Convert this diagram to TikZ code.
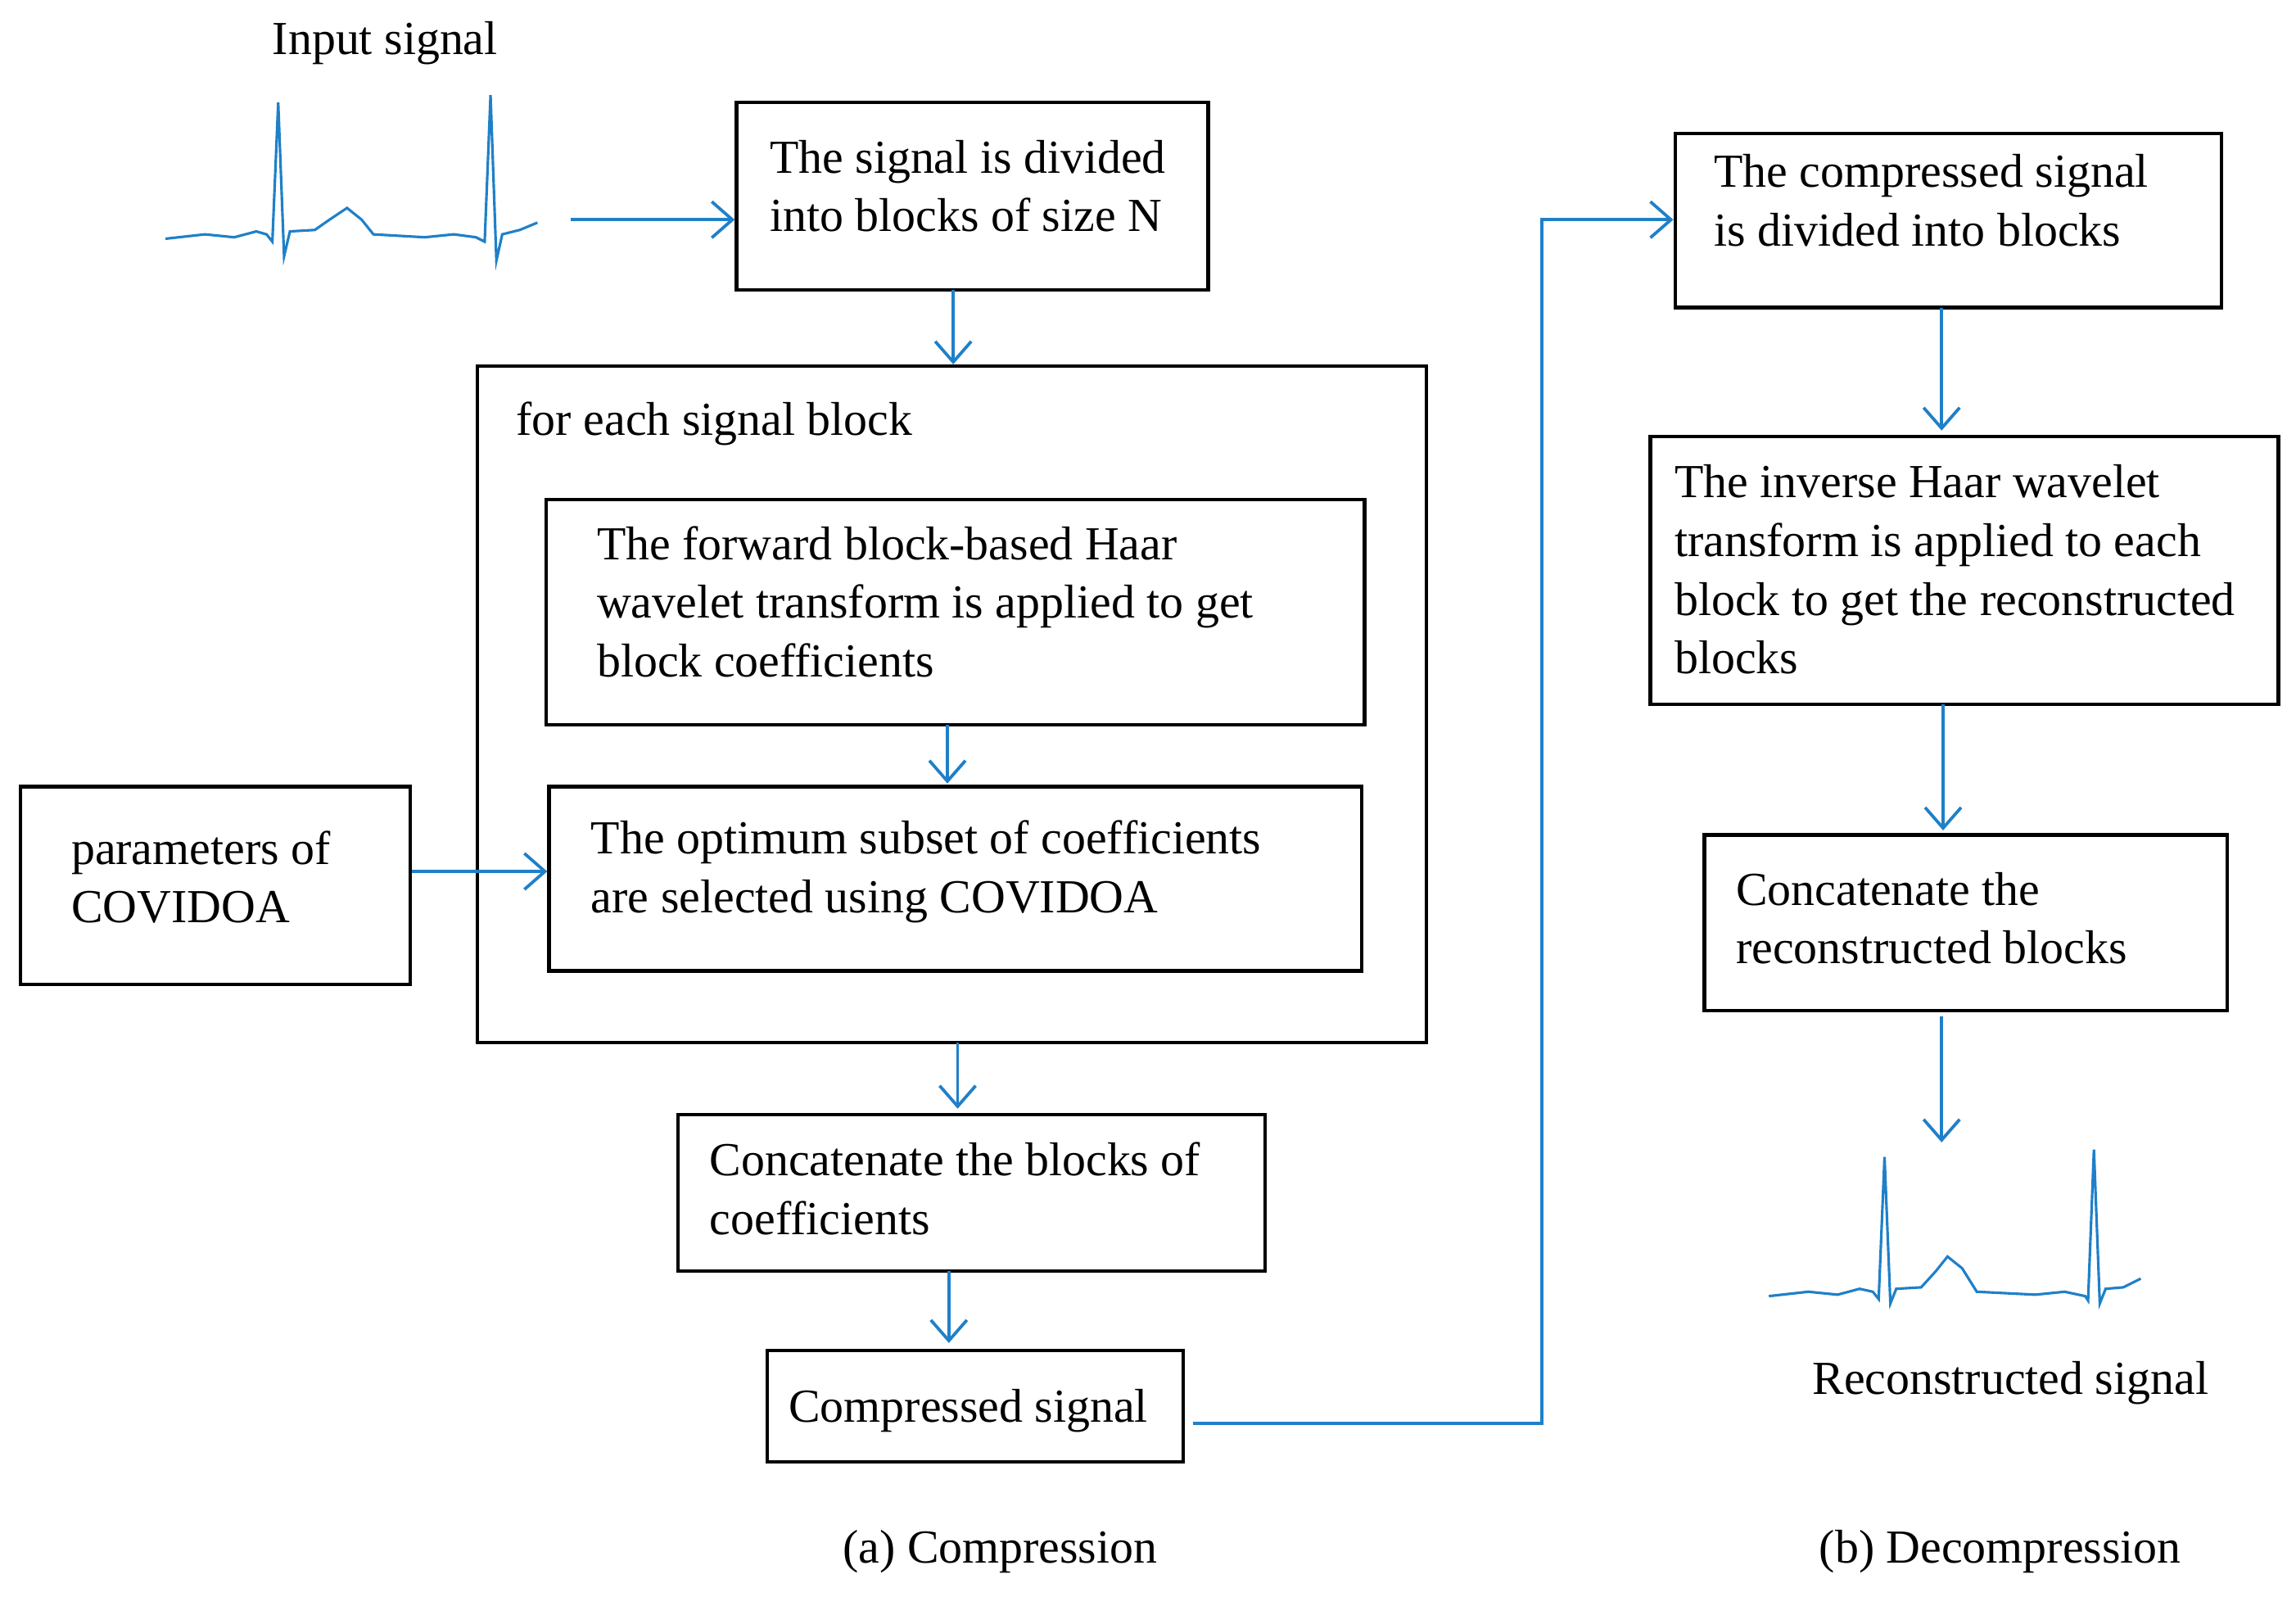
\documentclass[tikz,border=0pt]{standalone}
\usepackage{fontspec}
\setmainfont{Liberation Serif}
\usetikzlibrary{arrows.meta}
\definecolor{ab}{HTML}{1F80C8}
\begin{document}
\begin{tikzpicture}[x=0.01cm,y=-0.01cm,
  box/.style={draw,line width=0.7pt,inner sep=0pt},
  txt/.style={anchor=base west,align=left,inner sep=0pt,font=\fontsize{9.2}{11.38}\selectfont},
  arr/.style={ab,line width=0.6pt,-{Straight Barb[length=4pt,width=7pt]}},
  ecg/.style={ab,line width=0.5pt}]
\useasboundingbox (0,0) rectangle (1568,1090);
\def\bx#1#2#3#4#5{\node[box,minimum width={(#4-#2)*0.01cm},minimum height={(#5-#3)*0.01cm}] (#1) at ({(#2+#4)/2},{(#3+#5)/2}) {};}
\bx{b1}{503}{70}{825}{198}
\bx{outer}{326}{250}{974}{712}
\bx{b2}{373}{341}{932}{495}
\bx{b3}{375}{537}{930}{663}
\bx{par}{14}{537}{280}{672}
\bx{b4}{463}{761}{864}{868}
\bx{b5}{524}{922}{808}{998}
\bx{d1}{1144}{91}{1517}{210}
\bx{d2}{1127}{298}{1556}{481}
\bx{d3}{1164}{570}{1521}{690}
\node[txt] (t1) at (525,158) {The signal is divided\\into blocks of size N};
\node[txt] (t0) at (352,297) {for each signal block};
\node[txt] (t2) at (407,462) {The forward block-based Haar\\wavelet transform is applied to get\\block coefficients};
\node[txt] (t3) at (403,623) {The optimum subset of coefficients\\are selected using COVIDOA};
\node[txt] (tp) at (48,630) {parameters of\\COVIDOA};
\node[txt] (t4) at (484,843) {Concatenate the blocks of\\coefficients};
\node[txt] (t5) at (538,971) {Compressed signal};
\node[txt] (u1) at (1170,168) {The compressed signal\\is divided into blocks};
\node[txt] (u2) at (1143,460) {The inverse Haar wavelet\\transform is applied to each\\block to get the reconstructed\\blocks};
\node[txt] (u3) at (1185,658) {Concatenate the\\reconstructed blocks};
\node[txt,anchor=base] (l1) at (263,37) {Input signal};
\node[txt,anchor=base] (l2) at (1373,952) {Reconstructed signal};
\node[txt,anchor=base] (l3) at (683,1067) {(a) Compression};
\node[txt,anchor=base] (l4) at (1366,1067) {(b) Decompression};
% ECG 1
\draw[ecg] plot coordinates {(113,163) (140,160) (160,162) (175,158) (182,160) (186,165) (190,70) (194,175) (198,158) (215,157) (225,150) (237,142) (247,150) (255,160) (290,162) (310,160) (325,162) (331,165) (335,65) (339,178) (343,160) (355,157) (367,152)};
% ECG 2
\draw[ecg] plot coordinates {(1208,885) (1235,882) (1255,884) (1270,880) (1279,882) (1283,887) (1287,790) (1291,890) (1295,880) (1312,879) (1322,868) (1330,858) (1340,866) (1350,882) (1390,884) (1410,882) (1424,885) (1426,888) (1430,785) (1434,890) (1438,880) (1450,879) (1462,873)};
\coordinate (e1) at (390,150);
\draw[arr] (e1) -- (b1.west |- e1);
\draw[arr] (651,198) -- (outer.north -| 651,0);
\draw[arr] (647,495) -- (647,535);
\draw[arr] (par.east |- 0,595) -- (b3.west |- 0,595);
\draw[arr] (654,712) -- (654,757);
\draw[arr] (648,868) -- (648,917);
\coordinate (c5) at (815,972);
\draw[arr] (c5) -- (1053,972) -- (1053,150) -- (d1.west |- 0,150);
\draw[arr] (1326,210) -- (1326,294);
\draw[arr] (1327,481) -- (1327,567);
\coordinate (e2) at (1326,780);
\draw[arr] (1326,694) -- (e2);
\end{tikzpicture}
\end{document}
